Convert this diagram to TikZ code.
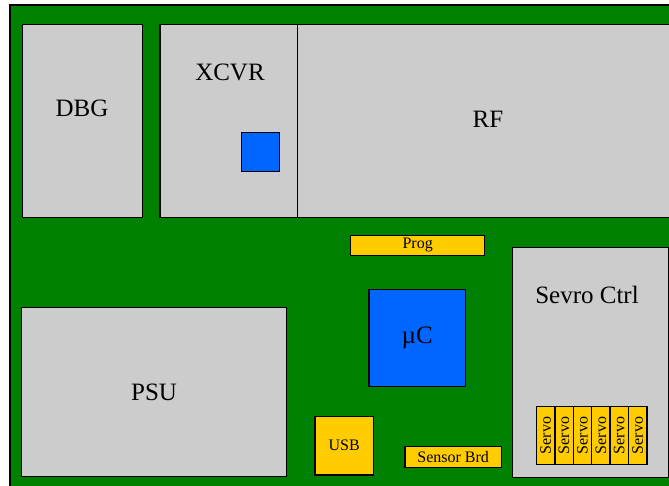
\documentclass[tikz,border=0pt]{standalone}
\usepackage{fontspec}
\setmainfont{Liberation Serif}
\newfontfamily\boardfont{Liberation Serif}
\usetikzlibrary{positioning}
\definecolor{pcbgreen}{HTML}{008000}
\definecolor{modgray}{HTML}{CCCCCC}
\definecolor{chipblue}{HTML}{0066FF}
\definecolor{connyellow}{HTML}{FFCC00}

\newcommand{\bigtxt}{\boardfont\fontsize{25}{28}\selectfont}
\newcommand{\smalltxt}{\boardfont\fontsize{16}{18}\selectfont}

\begin{document}
\begin{tikzpicture}[
  x=1pt, y=-1pt,
  every node/.style={text=black, font=\bigtxt},
  module/.style={draw=black, line width=1.4pt, fill=modgray, rectangle, anchor=north west, inner sep=0pt},
  chip/.style={draw=black, line width=1.4pt, fill=chipblue, rectangle, anchor=north west, inner sep=0pt},
  conn/.style={draw=black, line width=1.4pt, fill=connyellow, rectangle, anchor=north west, inner sep=0pt, font=\smalltxt},
]

% Page and clipping
\useasboundingbox (0,0) rectangle (669,485);
\clip (0,0) rectangle (669,485);
\fill[white] (0,0) rectangle (669,485);

% Board
\draw[fill=pcbgreen, line width=2pt] (10,5) rectangle (720,540);

% Debug module
\node[module, minimum width=120pt, minimum height=193pt] (dbg) at (21.7,23.5) {};
\node (dbglbl) at (82,108) {DBG};

% Transceiver with its chip
\node[module, minimum width=138pt, minimum height=193pt] (xcvr) at (159.3,23.5) {};
\node (xcvrlbl) at (230,72) {XCVR};
\node[chip, minimum width=38pt, minimum height=38.5pt] (xcvrchip) at (241,132) {};

% RF section
\node[module, minimum width=400pt, minimum height=193pt] (rf) at (297,23.5) {};
\node (rflbl) at (488,119) {RF};

% Programming header
\node[conn, minimum width=134pt, minimum height=20.5pt] (prog) at (350,234.5) {Prog};

% Servo controller
\node[module, minimum width=155.7pt, minimum height=230pt] (servoctrl) at (512,246.7) {};
\node (servoctrllbl) at (587,295) {Sevro Ctrl};
\foreach \i in {0,...,5}
  \node[conn, minimum width=18.4pt, minimum height=58.3pt] (servo\i) at ({535.7+18.4*\i},405.7) {\rotatebox{90}{Servo}};

% Microcontroller
\node[chip, minimum width=96.4pt, minimum height=96.7pt] (uc) at (368.3,289) {µC};

% Power supply
\node[module, minimum width=264.7pt, minimum height=169pt] (psu) at (21,306.7) {PSU};

% USB and sensor board connectors
\node[conn, minimum width=58.4pt, minimum height=58.6pt] (usb) at (314.3,415.7) {USB};
\node[conn, minimum width=96.4pt, minimum height=21pt] (sensor) at (404.3,445.7) {Sensor Brd};

\end{tikzpicture}
\end{document}
